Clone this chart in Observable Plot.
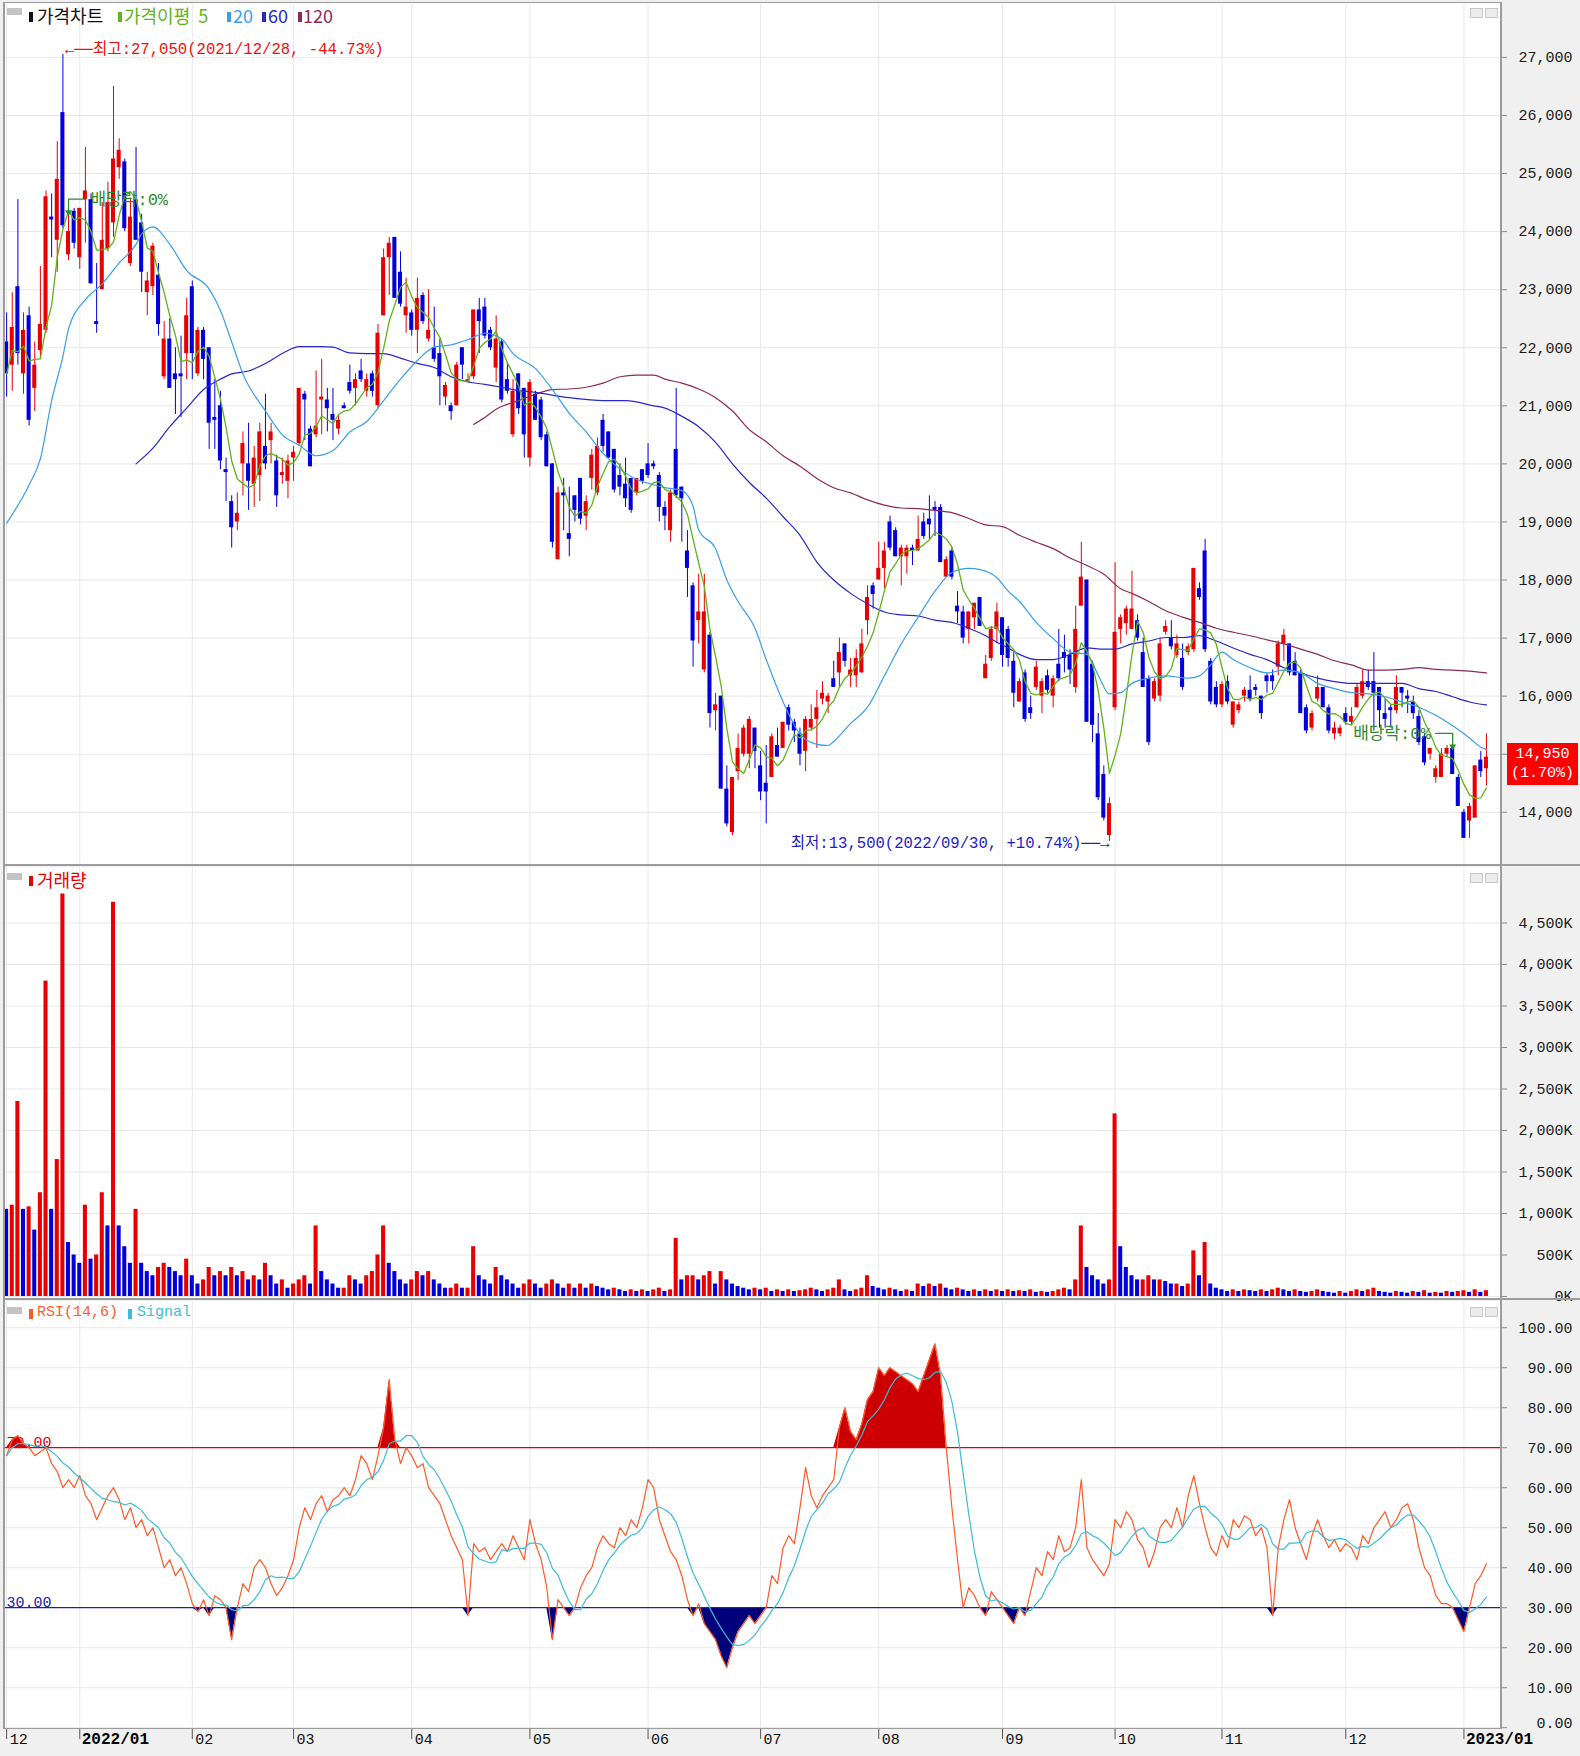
<!DOCTYPE html>
<html><head><meta charset="utf-8">
<script src="https://cdn.jsdelivr.net/npm/d3@7"></script>
<script src="https://cdn.jsdelivr.net/npm/@observablehq/plot@0.6"></script>
<style>
body{margin:0;background:#fff;}
#wrap{position:relative;width:1580px;height:1756px;background:#f0f0f0;overflow:hidden;}
.pane{position:absolute;left:5px;width:1496px;background:#fff;}
.ln{position:absolute;background:#9c9c9c;}
.t{position:absolute;white-space:nowrap;font-family:'Noto Sans CJK KR','Noto Sans',sans-serif;font-size:16px;line-height:20px;}
.m{position:absolute;font-family:'Liberation Mono','DejaVu Sans Mono',monospace;font-size:15px;line-height:20px;white-space:nowrap;}
.mk{position:absolute;width:4px;height:10px;}
.ic{position:absolute;width:15px;height:7px;background:#c4c4c4;}
.ib{position:absolute;width:11px;height:8px;border:1px solid #c8c8c8;background:#ececec;}
</style></head><body><div id="wrap"></div><script>
// ---------------- data (trading-day index 0 = 2021/12/14) ----------------
const opens = [
22100,21700,23050,21550,22550,21300,21950,22300,24250,23850,
26050,23600,24350,23550,24550,24550,22450,23000,23700,24150,
25100,25200,23450,24550,24150,22950,23050,23250,21500,22150,
21550,21550,21900,23050,21550,22300,22000,20800,21000,19900,
19350,19000,20000,20000,19650,19800,20300,20400,20050,19800,
19700,20100,20350,21200,20600,20500,21100,21100,20850,20600,
21000,21400,21300,21600,21250,21550,21000,22550,23550,23900,
23300,22550,22600,22300,22900,22150,22000,21900,21150,21000,
21000,22000,21400,21500,22650,22700,22300,21650,22100,21450,
20500,21550,21300,20100,21200,21100,20500,20000,18350,19500,
18800,19450,19750,19100,19750,19500,20750,20550,20250,19800,
19650,19750,19500,19900,20000,20000,19800,19250,18850,20250,
19600,18500,17900,17300,16450,17050,15750,16000,14400,13650,
14700,15000,15000,15450,14800,14500,14600,15150,15100,15800,
15550,15350,15050,15450,15600,15950,15900,16300,16400,16900,
16350,16350,16400,17300,17900,18000,18200,19000,18850,18400,
18400,18550,18500,19000,19050,19250,19250,18050,18500,17550,
17450,17150,17350,17700,16300,16650,17150,17350,17150,16600,
15900,16400,15800,16150,16000,16350,16000,16550,16750,16700,
16150,17550,18000,16550,15350,14650,13600,15800,17150,17250,
17150,17300,16750,16300,15950,16000,17100,17000,16700,16650,
16750,16800,17850,18500,16600,16150,15850,16250,15500,15750,
16000,16100,16150,16000,16350,16350,16500,16900,16900,16600,
16400,15800,15450,15950,16150,15800,15350,15350,15700,15550,
15800,16000,16250,16250,16150,15700,15800,15750,16150,16000,
15900,15650,15300,15000,14600,14600,15000,15100,14600,14000,
13850,13900,14900,14750];
const highs = [
22600,22950,24550,22600,22700,22100,23400,24700,24650,25550,
27050,24300,24400,24400,25450,24650,23450,24500,24850,26500,
25600,25250,24550,25450,24300,23300,23800,23450,22450,22500,
22000,22200,22850,23150,22350,22350,22000,21450,21250,20100,
19450,19500,20550,20700,20300,20700,21200,20700,20150,20100,
20150,20300,21300,21250,20650,21600,21800,21300,21300,20850,
21050,21700,21550,21800,21550,21600,22400,23700,23900,23900,
23650,23200,22650,23200,22950,23000,22700,22150,21400,21050,
21750,22000,21550,22650,22850,22850,22350,22550,22150,21750,
21450,21550,21300,21450,21250,21150,20550,20000,19600,19750,
19600,19450,19750,19450,20250,20450,20850,20550,20250,20000,
20100,19750,19750,19900,20350,20050,19850,19350,19550,21300,
19600,18850,17950,18100,18100,17100,16050,16000,14800,14600,
15350,15500,15650,15450,15050,15150,15350,15450,15550,15850,
15600,15450,15650,15850,16100,16250,16050,16600,17000,16900,
16650,16800,17150,17900,17950,18650,18650,19100,18900,18600,
18600,18600,19100,19150,19450,19350,19300,18400,18550,17800,
17550,17450,17600,17700,16700,17200,17600,17350,17200,16750,
16300,16450,16000,16600,16300,16450,16350,17150,17050,16800,
17550,18650,18000,16600,15700,14800,14250,18300,17400,17550,
18150,17400,17000,16350,16300,17000,17300,17300,17050,16900,
16900,18200,17950,18700,16650,16250,16250,16350,15900,15900,
16150,16350,16200,16000,16400,16450,16950,17150,16900,16750,
16450,15850,15750,16350,16150,15850,15550,15500,15800,15800,
16200,16450,16450,16750,16150,15950,15850,16350,16150,16100,
16000,15750,15350,15100,14800,15100,15150,15100,14650,14050,
14150,14800,15050,15350];
const lows = [
21150,21250,21700,21200,20650,20900,21800,22250,23550,23300,
24050,23500,23700,23350,23800,23100,22250,23000,23650,23900,
24900,24000,23400,23850,22950,22550,22900,22200,21450,21300,
20850,20800,21450,21450,21500,21450,20250,20250,19900,19350,
18550,18850,19450,19200,19250,19350,19900,20000,19250,19650,
19400,19700,20300,20400,19950,20450,20500,20550,20400,20500,
20950,21200,21000,21400,21150,21150,20950,22550,22900,22850,
22700,22250,22200,21900,22400,22100,21750,21000,21000,20750,
21000,21450,21400,21450,21900,22150,21950,21400,21050,21200,
20450,20850,20100,19950,20750,20400,19950,18550,18350,18850,
18400,19000,18950,18850,19550,19450,20200,20100,19500,19450,
19250,19150,19450,19650,19750,19900,19000,18850,18650,19400,
18650,17700,16500,16900,16400,15450,15400,14400,13750,13600,
14550,14950,14750,14750,14200,13800,14600,14950,15100,15400,
15200,14800,14700,15400,15100,15850,15700,16150,16150,16500,
16150,16150,16400,17050,17500,18000,17850,18500,18400,17900,
18100,18250,18500,18700,18700,18750,18300,18050,18000,17250,
16900,16900,17150,17200,16300,16600,16900,16500,16500,15800,
15900,15550,15600,16100,15700,16050,15800,16250,16400,16200,
16050,17550,15550,15200,14200,13850,13500,15750,16900,17050,
17150,16950,16150,15150,15900,15900,17050,16800,16650,16100,
16700,16750,17650,16750,15850,15800,15800,15850,15450,15700,
15900,15900,16000,15600,16050,16100,16350,16600,16350,16350,
15700,15350,15400,15900,15800,15350,15250,15300,15500,15500,
15800,15950,16100,15400,15450,15450,15450,15700,15800,15700,
15600,15150,14800,14900,14500,14600,14950,14650,14100,13550,
13550,13900,14600,14450];
const closes = [
21550,22350,21900,22300,20750,21700,22400,24600,24200,24900,
24100,24000,23800,24400,24700,23100,22400,23850,24500,25250,
25400,24050,24250,23850,23300,23150,23750,22400,22150,21300,
21450,21500,22550,21900,22300,21800,20700,20750,20050,19850,
18900,19150,20350,19700,20100,20550,20000,20550,19450,19850,
20050,20200,21300,21100,19950,20650,21150,20950,20750,20750,
20950,21250,21450,21450,21450,21250,22250,23550,23800,22850,
22750,22700,22300,22850,22450,22300,21800,21500,21350,20900,
21700,21700,21450,22650,22450,22200,22000,22150,21100,21250,
21250,20950,20500,21400,20750,20450,19950,18650,19500,19450,
18700,19200,19050,19350,20150,20300,20300,20100,19550,19600,
19400,19200,19750,19700,19800,19950,19250,19100,19500,19450,
19400,18200,16950,17450,17450,15700,15850,14400,13800,14600,
15100,15450,15600,15050,14350,14350,15300,14950,15550,15500,
15400,15000,15600,15600,15800,16050,16000,16150,16750,16600,
16450,16650,16900,17700,17750,18200,18500,18550,18400,18550,
18550,18500,18700,18750,18950,19200,18300,18350,18050,17450,
17000,17450,17600,17200,16550,17150,17450,16700,16650,16050,
16250,15600,15700,16500,16250,16100,16300,16300,16650,16450,
17150,18050,15550,15500,14250,13900,14150,17100,17350,17500,
17500,17000,16150,15200,16250,16900,17200,16850,16900,16150,
16850,18200,17700,16800,15900,15850,16200,15900,15900,15850,
16100,15950,16100,15700,16250,16250,16900,17050,16400,16350,
15700,15400,15700,16150,15800,15400,15450,15450,15550,15650,
16150,16250,16150,16050,15750,15600,15750,16150,16050,15950,
15700,15200,14850,15100,14750,15000,15100,14650,14100,13550,
14100,14800,14700,14950];
// volume in thousands of shares
const volumes = [
1050,1100,2350,1050,1080,800,1250,3800,1050,1650,
4850,650,500,400,1100,450,500,1250,850,4750,
850,600,400,1050,400,300,250,350,400,350,
300,250,450,250,150,200,350,250,300,250,
350,250,300,200,250,200,400,250,150,200,
100,150,200,250,150,850,300,200,150,100,
100,250,200,150,250,300,500,850,400,300,
200,150,200,300,250,300,200,150,100,100,
150,100,100,600,250,200,150,350,250,200,
150,100,150,200,150,100,150,200,150,100,
150,100,150,100,150,120,100,80,100,80,
60,80,60,80,60,80,100,60,80,700,
200,250,250,200,250,300,150,300,200,150,
120,100,80,100,80,100,60,80,60,80,
60,70,80,100,80,60,80,100,200,80,
60,80,100,250,120,100,80,100,80,60,
80,60,150,120,150,120,150,100,80,100,
80,60,80,60,80,60,80,60,80,60,
70,60,80,50,60,50,60,80,100,80,
200,850,350,250,200,150,200,2200,600,350,
250,200,200,250,200,200,180,150,150,120,
150,550,250,650,150,100,80,60,80,60,
80,70,60,80,60,80,100,80,60,80,
60,50,60,80,60,50,40,60,40,60,
80,60,80,100,60,50,40,60,50,40,
60,50,70,40,50,40,60,50,60,70,
50,80,50,70];
const rsiValues = [
68,72,73,71,70,68,69,70,66,64,
60,62,60,63,58,56,52,55,58,60,
57,52,55,50,52,48,50,45,40,42,
38,40,36,31,29,32,28,33,32,30,
22,30,36,34,40,42,40,36,33,35,
38,42,50,55,52,56,58,54,57,58,
60,58,62,68,66,62,68,75,87,72,
66,70,68,65,66,60,58,56,52,48,
45,42,28,46,44,45,42,44,46,44,
48,45,42,52,46,42,35,22,32,30,
28,30,35,38,40,45,48,46,45,50,
48,52,50,55,62,60,52,48,44,42,
38,32,28,31,26,24,22,18,15,20,
24,26,28,26,28,30,38,36,45,48,
46,55,65,58,55,58,60,62,75,80,
74,72,76,82,84,90,88,90,89,88,
87,86,84,88,92,96,88,70,55,42,
30,35,33,30,28,34,32,30,28,26,
30,28,34,40,38,44,42,48,44,45,
50,62,45,42,40,38,41,52,50,54,
52,47,45,40,44,50,52,50,55,50,
58,63,56,50,45,43,48,45,52,50,
53,52,48,50,45,28,45,52,57,50,
46,42,48,52,48,45,47,44,46,45,
42,48,46,50,52,54,50,52,55,56,
52,45,40,38,33,31,31,30,27,24,
30,36,38,41];
// moving averages: [day index, price]
const ma20Points = [[0,18980],[4,19640],[6,20090],[8,21090],[10,21850],[11,22320],[14,22830],[17,23100],[20,23460],[23,23780],[24,23960],[26,24080],[29,23780],[32,23330],[36,23010],[38,22640],[40,22100],[42,21550],[46,20910],[49,20500],[52,20320],[55,20140],[58,20230],[61,20550],[64,20730],[67,21090],[70,21460],[73,21780],[76,22010],[79,22050],[82,22140],[85,22250],[88,22150],[90,21900],[94,21640],[97,21280],[100,20870],[103,20550],[106,20180],[109,19910],[112,19730],[115,19640],[117,19590],[120,19540],[122,19270],[123,18860],[126,18540],[128,18000],[130,17630],[133,17170],[135,16630],[138,15900],[141,15350],[144,15170],[146,15150],[147,15220],[150,15530],[153,15810],[156,16350],[159,16900],[162,17360],[165,17810],[168,18130],[171,18200],[173,18180],[176,18040],[178,17810],[180,17630],[183,17270],[186,16990],[189,16760],[192,16720],[194,16360],[196,16040],[198,16060],[200,16220],[203,16310],[206,16350],[210,16310],[212,16350],[214,16540],[216,16760],[218,16630],[221,16490],[224,16400],[227,16450],[230,16400],[233,16220],[236,16130],[239,16060],[242,16040],[245,15990],[248,15900],[251,15810],[254,15670],[257,15490],[260,15280],[262,15120],[263,15080]];
const ma60Points = [[23,20000],[26,20270],[29,20640],[32,20960],[35,21280],[38,21460],[40,21550],[43,21600],[46,21730],[49,21900],[52,22020],[56,22020],[58,22010],[61,21910],[64,21900],[67,21900],[70,21820],[73,21730],[76,21660],[79,21500],[82,21410],[85,21370],[88,21320],[90,21280],[94,21230],[100,21140],[106,21090],[110,21090],[115,21000],[117,20960],[120,20820],[123,20640],[126,20370],[129,20000],[132,19680],[135,19410],[138,19090],[141,18770],[144,18310],[147,18000],[150,17770],[153,17590],[156,17450],[159,17400],[162,17380],[165,17310],[168,17270],[171,17170],[174,17040],[176,16930],[178,16830],[180,16720],[183,16630],[186,16630],[189,16720],[192,16830],[195,16810],[197,16810],[200,16900],[203,16950],[206,17010],[209,17010],[212,17040],[215,16950],[218,16830],[221,16720],[224,16630],[227,16490],[230,16400],[233,16310],[236,16250],[239,16220],[242,16220],[245,16220],[248,16220],[251,16130],[254,16080],[257,15990],[260,15900],[263,15850]];
const ma120Points = [[83,20680],[85,20800],[87,20940],[91,21090],[94,21200],[97,21280],[100,21290],[103,21320],[106,21390],[109,21500],[112,21530],[115,21530],[117,21460],[120,21390],[123,21290],[126,21140],[129,20910],[132,20590],[135,20380],[138,20140],[141,19960],[144,19750],[147,19590],[150,19500],[153,19380],[156,19290],[159,19240],[162,19230],[165,19200],[168,19160],[171,19060],[174,18950],[177,18920],[180,18770],[183,18650],[186,18540],[189,18380],[192,18250],[195,18100],[198,17850],[200,17770],[203,17630],[206,17470],[209,17360],[212,17270],[215,17170],[218,17100],[221,17040],[224,16970],[227,16900],[230,16810],[233,16720],[236,16610],[239,16540],[242,16450],[245,16450],[248,16460],[251,16490],[254,16460],[257,16450],[260,16430],[263,16400]];
const monthTickIdx = [0,13,33,51,72,93,114,134,155,177,197,216,238,259];
const monthTickLabels = ["12","2022/01","02","03","04","05","06","07","08","09","10","11","12","2023/01"];
const priceTicks = [14000,15000,16000,17000,18000,19000,20000,21000,22000,23000,24000,25000,26000,27000];
const volumeTicks = [0,500,1000,1500,2000,2500,3000,3500,4000,4500];
const rsiTicks = [0,10,20,30,40,50,60,70,80,90,100];
const rsiLevels = [70, 30];
const exDivIdx = [11, 257];
const exDivLabel = "배당락:0%";
const highNote = "최고:27,050(2021/12/28, -44.73%)";
const lowNote = "최저:13,500(2022/09/30, +10.74%)";

// ---------------- chart ----------------
const FONT = "'Liberation Mono','DejaVu Sans Mono','Noto Sans CJK KR',monospace";
const RED = "#e80000", BLUE = "#0000dc";
const C_MA5 = "#62b21c", C_MA20 = "#3a9eee", C_MA60 = "#2828c8", C_MA120 = "#8c2a5a";
const GRID = "#e8e8e8";
const X_DOMAIN = [-0.2, 265.5];
const P_DOMAIN = [13101, 27911];
const pxPerIdx = 1495 / (X_DOMAIN[1] - X_DOMAIN[0]);
const pricePerPx = (P_DOMAIN[1] - P_DOMAIN[0]) / 860;
const N = opens.length;
const rows = opens.map((o, i) => ({i, o, h: highs[i], l: lows[i], c: closes[i], v: volumes[i], r: rsiValues[i]}));
rows.forEach((d, i) => { d.up = d.c >= d.o; d.vUp = i > 0 && d.v >= rows[i - 1].v; });
const toPts = a => a.map(([i, v]) => ({i, v}));
const months = monthTickIdx.map((i, k) => ({i, label: monthTickLabels[k], bold: monthTickLabels[k].includes("/")}));
const baseStyle = {fontFamily: FONT, fontSize: "15px", background: "transparent", color: "#111", overflow: "visible"};
const fmt = d3.format(",");

// ex-dividend brackets
const exLines = [], exTips = [], exTextR = [], exTextL = [];
exDivIdx.forEach((e, k) => {
  const h = highs[e];
  const top = h + 15 * pricePerPx, tip = h + 2 * pricePerPx;
  const dir = k === 0 ? 1 : -1;
  exLines.push({k, x: e, y: tip}, {k, x: e, y: top}, {k, x: e + dir * 17 / pxPerIdx, y: top});
  exTips.push({x: e, y: tip});
  (dir > 0 ? exTextR : exTextL).push({x: e + dir * 22 / pxPerIdx, y: top});
});
const maxIdx = d3.maxIndex(highs), minIdx = d3.minIndex(lows);

const pricePlot = Plot.plot({
  width: 1580, height: 866, marginTop: 4, marginBottom: 2, marginLeft: 5, marginRight: 80,
  x: {domain: X_DOMAIN, axis: null},
  y: {domain: P_DOMAIN},
  style: baseStyle,
  marks: [
    Plot.ruleY(priceTicks, {stroke: GRID}),
    Plot.ruleX(monthTickIdx, {stroke: GRID}),
    Plot.axisY({anchor: "right", ticks: priceTicks, tickSize: 6, tickFormat: () => "", label: null, stroke: "#8a8a8a"}),
    Plot.text(priceTicks, {y: d => d, frameAnchor: "right", dx: 72, textAnchor: "end", text: d => fmt(d), fill: "#1a1a1a", fontSize: 15}),
    Plot.ruleX(rows, {x: "i", y1: "l", y2: "h", stroke: d => d.up ? RED : BLUE, strokeWidth: 1}),
    Plot.rect(rows, {x1: d => d.i - 0.36, x2: d => d.i + 0.36, y1: "o", y2: d => d.c === d.o ? d.c + 20 : d.c, fill: d => d.up ? RED : BLUE}),
    Plot.line(toPts(ma120Points), {x: "i", y: "v", stroke: C_MA120, strokeWidth: 1.2, curve: "monotone-x"}),
    Plot.line(toPts(ma60Points), {x: "i", y: "v", stroke: C_MA60, strokeWidth: 1.2, curve: "monotone-x"}),
    Plot.line(toPts(ma20Points), {x: "i", y: "v", stroke: C_MA20, strokeWidth: 1.2, curve: "monotone-x"}),
    Plot.lineY(rows, Plot.windowY({k: 5, anchor: "end"}, {x: "i", y: "c", stroke: C_MA5, strokeWidth: 1.3})),
    Plot.line(exLines, {x: "x", y: "y", z: "k", stroke: "#2e8b2e", strokeWidth: 1.3}),
    Plot.dot(exTips, {x: "x", y: "y", symbol: "triangle", rotate: 180, r: 2.6, fill: "#2e8b2e"}),
    Plot.text(exTextR, {x: "x", y: "y", text: () => exDivLabel, textAnchor: "start", fill: "#2e8b2e", fontSize: 17}),
    Plot.text(exTextL, {x: "x", y: "y", text: () => exDivLabel, textAnchor: "end", fill: "#2e8b2e", fontSize: 17}),
    Plot.text([{i: maxIdx}], {x: "i", frameAnchor: "top", dy: 38, dx: 2, textAnchor: "start", text: () => "←──" + highNote, fill: "#ee1010", fontSize: 15.6}),
    Plot.text([{i: minIdx}], {x: "i", frameAnchor: "bottom", dy: -17, dx: 0, textAnchor: "end", text: () => lowNote + "──→", fill: "#1c1cc8", fontSize: 15.6})
  ]
});

const volPlot = Plot.plot({
  width: 1580, height: 434, marginTop: 0, marginBottom: 4, marginLeft: 5, marginRight: 80,
  x: {domain: X_DOMAIN, axis: null},
  y: {domain: [0, 5181]},
  style: baseStyle,
  marks: [
    Plot.ruleY(volumeTicks, {stroke: GRID}),
    Plot.ruleX(monthTickIdx, {stroke: GRID}),
    Plot.axisY({anchor: "right", ticks: volumeTicks, tickSize: 6, tickFormat: () => "", label: null, stroke: "#8a8a8a"}),
    Plot.text(volumeTicks, {y: d => d, frameAnchor: "right", dx: 72, textAnchor: "end", text: d => fmt(d) + "K", fill: "#1a1a1a", fontSize: 15}),
    Plot.rect(rows, {x1: d => d.i - 0.36, x2: d => d.i + 0.36, y1: 0, y2: "v", fill: d => d.vUp ? RED : BLUE})
  ]
});

const rsiPlot = Plot.plot({
  width: 1580, height: 456, marginTop: 1, marginBottom: 28, marginLeft: 5, marginRight: 80,
  x: {domain: X_DOMAIN},
  y: {domain: [-0.2, 106.55]},
  style: baseStyle,
  marks: [
    Plot.ruleY(rsiTicks.filter(t => !rsiLevels.includes(t)), {stroke: GRID}),
    Plot.ruleX(monthTickIdx, {stroke: GRID}),
    Plot.axisY({anchor: "right", ticks: rsiTicks, tickSize: 6, tickFormat: () => "", label: null, stroke: "#8a8a8a"}),
    Plot.text(rsiTicks.filter(t => t > 0), {y: d => d, frameAnchor: "right", dx: 72, textAnchor: "end", text: d => d.toFixed(2), fill: "#1a1a1a", fontSize: 15}),
    Plot.text([0], {y: d => d, frameAnchor: "right", dx: 72, textAnchor: "end", lineAnchor: "bottom", text: d => d.toFixed(2), fill: "#1a1a1a", fontSize: 15}),
    Plot.areaY(rows, {x: "i", y1: () => rsiLevels[0], y2: d => Math.max(rsiLevels[0], d.r), fill: "#cc0000"}),
    Plot.areaY(rows, {x: "i", y1: () => rsiLevels[1], y2: d => Math.min(rsiLevels[1], d.r), fill: "#00007a"}),
    Plot.ruleY([rsiLevels[0]], {stroke: "#e00000", strokeWidth: 1.2}),
    Plot.ruleY([rsiLevels[1]], {stroke: "#2020a8", strokeWidth: 1.2}),
    Plot.text([rsiLevels[0]], {y: d => d, frameAnchor: "left", dx: 1, dy: -1, lineAnchor: "bottom", textAnchor: "start", text: d => d.toFixed(2), fill: "#e00000", fontSize: 15}),
    Plot.text([rsiLevels[1]], {y: d => d, frameAnchor: "left", dx: 1, dy: -1, lineAnchor: "bottom", textAnchor: "start", text: d => d.toFixed(2), fill: "#2020a8", fontSize: 15}),
    Plot.lineY(rows, {x: "i", y: "r", stroke: "#ff5a28", strokeWidth: 1.2}),
    Plot.lineY(rows, Plot.windowY({k: 6, anchor: "end"}, {x: "i", y: "r", stroke: "#3cbcd8", strokeWidth: 1.2})),
    Plot.axisX({anchor: "bottom", ticks: monthTickIdx, tickSize: 11, tickFormat: () => "", label: null, stroke: "#555"}),
    Plot.text(months.filter(d => !d.bold), {x: "i", frameAnchor: "bottom", dy: 15, dx: 3, textAnchor: "start", text: "label", fill: "#111", fontSize: 15}),
    Plot.text(months.filter(d => d.bold), {x: "i", frameAnchor: "bottom", dy: 15, dx: 2, textAnchor: "start", text: "label", fill: "#000", fontSize: 16, fontWeight: "bold"})
  ]
});

// ---------------- page assembly ----------------
const wrap = document.getElementById("wrap");
function el(cls, css, html) { const d = document.createElement("div"); d.className = cls; Object.assign(d.style, css); if (html != null) d.innerHTML = html; wrap.appendChild(d); return d; }
el("pane", {top: "3px", height: "862px"});
el("pane", {top: "867px", height: "432px"});
el("pane", {top: "1301px", height: "427px"});
[[pricePlot, 0], [volPlot, 866], [rsiPlot, 1300]].forEach(([svg, top]) => {
  svg.style.position = "absolute"; svg.style.left = "0px"; svg.style.top = top + "px";
  wrap.appendChild(svg);
});
// frame lines
el("ln", {left: "3px", top: "2px", width: "1498px", height: "1px"});
el("ln", {left: "3px", top: "2px", width: "2px", height: "1727px"});
el("ln", {left: "1500px", top: "2px", width: "2px", height: "1727px"});
el("ln", {left: "3px", top: "864px", width: "1577px", height: "2px"});
el("ln", {left: "3px", top: "1298px", width: "1577px", height: "2px"});
el("ln", {left: "3px", top: "1728px", width: "1499px", height: "1px"});
// panel icons
[8, 873, 1307].forEach(y => {
  el("ic", {left: "7px", top: y + "px"});
  el("ib", {left: "1470px", top: y + "px"});
  el("ib", {left: "1485px", top: y + "px"});
});
// legends
el("mk", {left: "29px", top: "12px", background: "#111"});
el("t", {left: "37px", top: "5px", color: "#111", fontSize: "18px"}, "가격차트");
el("mk", {left: "118px", top: "12px", background: C_MA5});
el("t", {left: "124px", top: "5px", color: C_MA5, fontSize: "18px"}, "가격이평&nbsp;&nbsp;5");
el("mk", {left: "227px", top: "12px", background: C_MA20});
el("t", {left: "233px", top: "5px", color: C_MA20, fontSize: "18px"}, "20");
el("mk", {left: "262px", top: "12px", background: C_MA60});
el("t", {left: "268px", top: "5px", color: C_MA60, fontSize: "18px"}, "60");
el("mk", {left: "298px", top: "12px", background: C_MA120});
el("t", {left: "303px", top: "5px", color: C_MA120, fontSize: "18px"}, "120");
el("mk", {left: "29px", top: "876px", background: RED});
el("t", {left: "37px", top: "869px", color: RED, fontSize: "18px"}, "거래량");
el("mk", {left: "29px", top: "1309px", background: "#ff5a28"});
el("m", {left: "37px", top: "1303px", color: "#ff5a28"}, "RSI(14,6)");
el("mk", {left: "128px", top: "1309px", background: "#3cbcd8"});
el("m", {left: "137px", top: "1303px", color: "#3cbcd8"}, "Signal");
// last price box
const lastC = closes[N - 1], prevC = closes[N - 2];
const yLast = pricePlot.scale("y").apply(lastC);
el("m", {left: "1507px", top: (yLast - 14) + "px", width: "71px", height: "42px", background: "#ff0000", color: "#fff", lineHeight: "19px", textAlign: "center", paddingTop: "2px", boxSizing: "border-box"},
   fmt(lastC) + "<br>(" + ((lastC - prevC) / prevC * 100).toFixed(2) + "%)");
</script></body></html>
